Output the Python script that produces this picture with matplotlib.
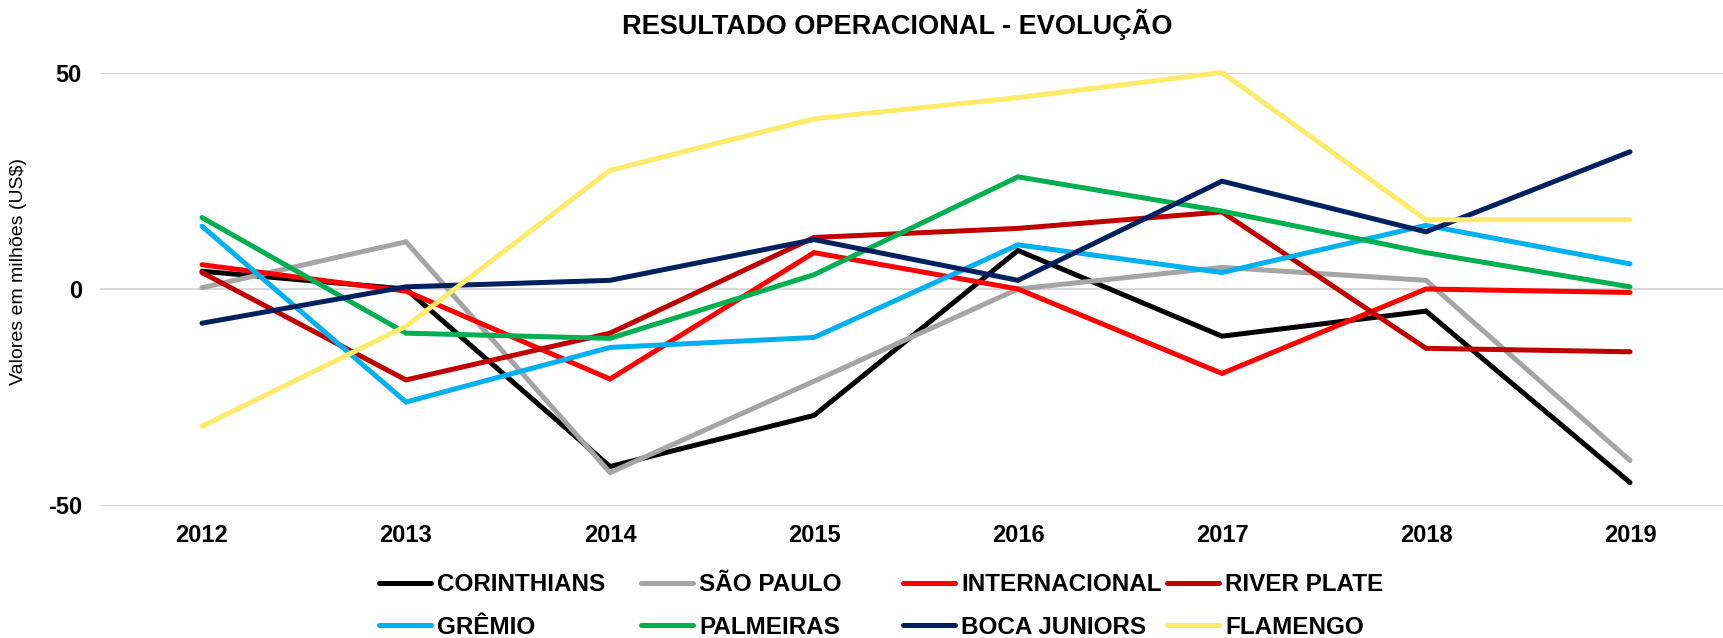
import matplotlib
matplotlib.use("Agg")
import matplotlib.pyplot as plt

plt.rcParams['font.family'] = ['Liberation Sans', 'DejaVu Sans']

years = ["2012", "2013", "2014", "2015", "2016", "2017", "2018", "2019"]

corinthians = [4.1, 0.0, -41.0, -29.2, 8.9, -10.9, -5.1, -44.7]
sao_paulo = [0.3, 10.9, -42.4, -21.3, 0.0, 5.0, 2.0, -39.6]
internacional = [5.6, -0.5, -20.8, 8.4, 0.0, -19.5, 0.0, -0.8]
river_plate = [3.8, -21.0, -10.2, 11.9, 14.0, 17.8, -13.7, -14.5]
gremio = [14.5, -26.1, -13.5, -11.2, 10.2, 3.8, 14.7, 5.8]
palmeiras = [16.5, -10.2, -11.4, 3.3, 25.9, 18.0, 8.4, 0.5]
boca_juniors = [-7.9, 0.5, 2.0, 11.4, 2.0, 24.9, 13.2, 31.7]
flamengo = [-31.7, -8.6, 27.4, 39.3, 44.2, 50.0, 16.0, 16.0]

names = ["CORINTHIANS", "SÃO PAULO", "INTERNACIONAL", "RIVER PLATE",
         "GRÊMIO", "PALMEIRAS", "BOCA JUNIORS", "FLAMENGO"]
series = [corinthians, sao_paulo, internacional, river_plate,
          gremio, palmeiras, boca_juniors, flamengo]
colors = ["#000000", "#A5A5A5", "#FF0000", "#C00000",
          "#00B0F0", "#00B050", "#002060", "#FFEB6B"]

W, H = 1723, 638
fig = plt.figure(figsize=(W / 100, H / 100), dpi=100)
ax = fig.add_axes([100 / W, 1 - 505.5 / H, (1732 - 100) / W, (505.5 - 72.5) / H])

x = list(range(len(years)))
handles = []
for name, vals, c in zip(names, series, colors):
    ln, = ax.plot(x, vals, color=c, lw=3.6, solid_capstyle='round',
                  solid_joinstyle='miter', label=name, clip_on=False)
    handles.append(ln)

ax.set_xlim(-0.5, len(years) - 0.5)
ax.set_ylim(-50, 50)
ax.set_yticks([-50, 0, 50])
ax.set_yticklabels(["-50", "0", "50"])
ax.set_xticks(x)
ax.set_xticklabels(years)
ax.tick_params(axis='both', length=0, labelsize=17)
ax.tick_params(axis='x', pad=13)
ax.tick_params(axis='y', pad=13)
for lbl in ax.get_xticklabels() + ax.get_yticklabels():
    lbl.set_fontweight('bold')
for s in ax.spines.values():
    s.set_visible(False)
ax.grid(axis='y', color='#D9D9D9', lw=1.5)
ax.set_axisbelow(True)

fig.text(19 / W, 1 - 271 / H, "Valores em milhões (US$)", fontsize=14,
         rotation=90, ha='center', va='center')

fig.text(897 / W, 1 - 24 / H,
         "RESULTADO OPERACIONAL - EVOLUÇÃO", fontsize=19.5, fontweight='bold',
         ha='center', va='center')

col_x = [379, 641, 903, 1167]
for i, cx in enumerate(col_x):
    hs = [handles[i], handles[i + 4]]
    fig.legend(hs, [h.get_label() for h in hs], loc='center left',
               bbox_to_anchor=(cx / W, 1 - 606 / H),
               frameon=False, borderpad=0, borderaxespad=0,
               handlelength=2.14, handletextpad=0.25, labelspacing=0.8,
               prop={'weight': 'bold', 'size': 17.5})

fig.savefig("out.png", dpi=100)
